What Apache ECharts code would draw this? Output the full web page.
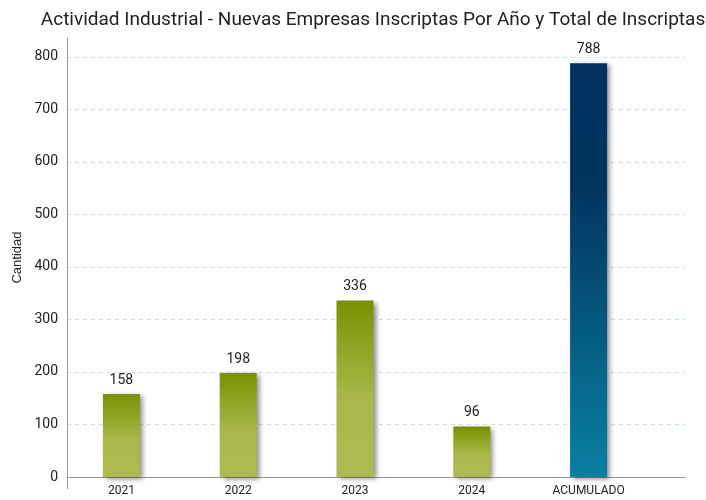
<!DOCTYPE html>
<html>
<head>
<meta charset="utf-8">
<style>html,body{margin:0;padding:0;background:#fff}#c{width:706px;height:500px}</style>
<script src="https://cdn.jsdelivr.net/npm/echarts@6/dist/echarts.min.js"></script>
</head>
<body>
<div id="c"></div>
<script>
var titleText = 'Actividad Industrial - Nuevas Empresas Inscriptas Por Año y Total de Inscriptas';
var categories = ['2021', '2022', '2023', '2024', 'ACUMULADO'];
var values = [158, 198, 336, 96, 788];
var yAxisName = 'Cantidad';
var yMin = 0, yMax = 836, yStep = 100;

var green = new echarts.graphic.LinearGradient(0, 0, 0, 1, [
  {offset: 0, color: '#7a9102'},
  {offset: 0.55, color: '#a9b849'},
  {offset: 1, color: '#aeba50'}
]);
var blue = new echarts.graphic.LinearGradient(0, 0, 0, 1, [
  {offset: 0, color: '#01315f'},
  {offset: 0.3, color: '#01345f'},
  {offset: 1, color: '#0880a3'}
]);

var data = values.map(function (v, i) {
  return {value: v, itemStyle: {color: i === values.length - 1 ? blue : green}};
});

var chart = echarts.init(document.getElementById('c'), null, {renderer: 'canvas'});
var font = 'Roboto';
chart.setOption({
  animation: false,
  backgroundColor: '#ffffff',
  title: {
    text: titleText, left: 368, top: 6, textAlign: 'center',
    textStyle: {fontFamily: font, fontSize: 19, fontWeight: 'normal', color: '#222'}
  },
  grid: [
    {left: 67, right: 21, top: 38, bottom: 23, containLabel: false},
    {left: 63, right: 59, top: 38, bottom: 23, containLabel: false}
  ],
  xAxis: [
    {type: 'category', gridIndex: 0, data: ['', ''], boundaryGap: false,
      axisLine: {show: true, lineStyle: {color: '#999', width: 1}},
      axisTick: {show: true, length: 12, interval: function (i) { return i === 0; }, lineStyle: {color: '#999'}},
      axisLabel: {show: false}, splitLine: {show: false}},
    {type: 'category', gridIndex: 1, data: categories,
      axisLine: {show: false}, axisTick: {show: false},
      axisLabel: {fontFamily: font, fontSize: 12, color: '#222', margin: 8}}
  ],
  yAxis: [
    {type: 'value', gridIndex: 0, min: yMin, max: yMax, interval: yStep,
      name: yAxisName, nameLocation: 'middle', nameGap: 40, nameRotate: 90,
      nameTextStyle: {fontFamily: 'Liberation Sans', fontSize: 13, color: '#222'},
      axisLine: {show: true, lineStyle: {color: '#999', width: 1}},
      axisTick: {show: false},
      axisLabel: {fontFamily: font, fontSize: 14, color: '#222', margin: 9, showMaxLabel: false},
      splitLine: {show: true, showMinLine: false, showMaxLine: false, lineStyle: {color: '#c5e3e6', type: [4, 4], width: 1}}},
    {type: 'value', gridIndex: 1, min: yMin, max: yMax, show: false, splitLine: {show: false}}
  ],
  series: [{
    type: 'bar', xAxisIndex: 1, yAxisIndex: 1, data: data, barWidth: 37,
    itemStyle: {shadowColor: 'rgba(0,0,0,0.45)', shadowBlur: 5, shadowOffsetX: 3, shadowOffsetY: 2},
    label: {show: true, position: 'top', distance: 7, fontFamily: font, fontSize: 14, color: '#222'}
  }]
});
</script>
</body>
</html>
